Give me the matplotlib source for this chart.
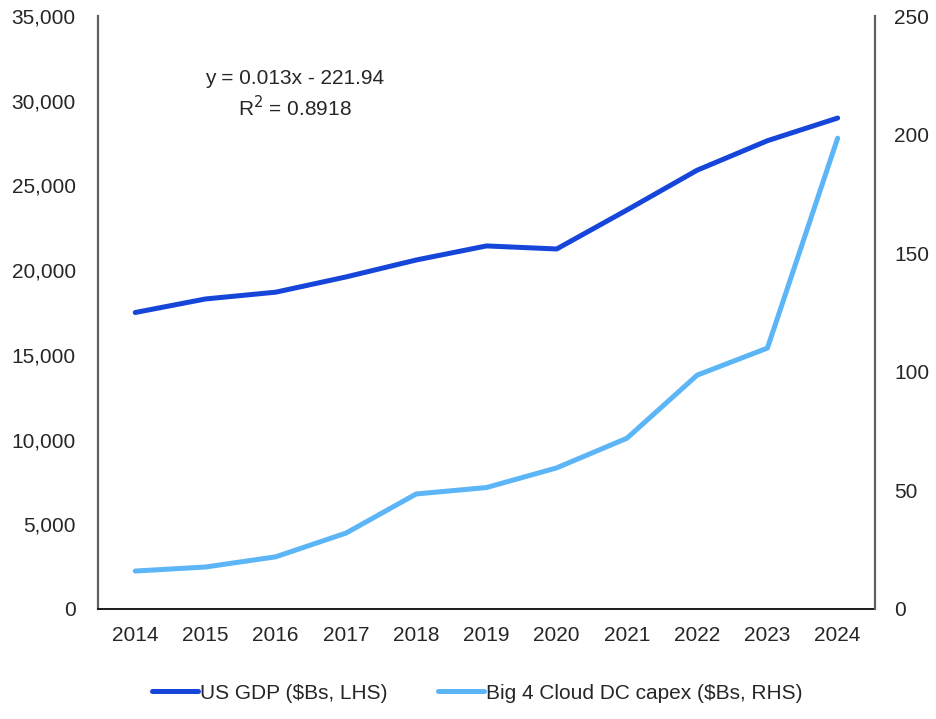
import matplotlib
matplotlib.use("Agg")
import matplotlib.pyplot as plt
from matplotlib.ticker import FuncFormatter, MultipleLocator

plt.rcParams['font.family'] = ['Liberation Sans', 'DejaVu Sans']

years = [2014, 2015, 2016, 2017, 2018, 2019, 2020, 2021, 2022, 2023, 2024]
us_gdp = [17500, 18300, 18700, 19600, 20600, 21430, 21250, 23550, 25900, 27640, 28980]
cloud_capex = [16.0, 17.7, 22.0, 32.0, 48.5, 51.2, 59.5, 72.0, 98.6, 110.0, 198.5]

gdp_color = '#1546d9'
capex_color = '#5cb5f7'
text_color = '#262626'

fig = plt.figure(figsize=(9.36, 7.19), dpi=100)
ax = fig.add_axes([0.1047, 0.153, 0.83, 0.8247])
ax2 = ax.twinx()

x = list(range(len(years)))
l1, = ax.plot(x, us_gdp, color=gdp_color, lw=3.6, solid_capstyle='round',
              solid_joinstyle='round', label='US GDP ($Bs, LHS)')
l2, = ax2.plot(x, cloud_capex, color=capex_color, lw=3.6, solid_capstyle='round',
               solid_joinstyle='round', label='Big 4 Cloud DC capex ($Bs, RHS)')

ax.set_xlim(-0.53, 10.53)
ax.set_ylim(0, 35000)
ax2.set_ylim(0, 250)
ax.yaxis.set_major_locator(MultipleLocator(5000))
ax2.yaxis.set_major_locator(MultipleLocator(50))
ax.yaxis.set_major_formatter(FuncFormatter(lambda v, p: f"{int(v):,}"))
ax.set_xticks(x)
ax.set_xticklabels([str(y) for y in years])

for a in (ax, ax2):
    a.tick_params(length=0, labelsize=15, colors=text_color)
    a.spines['top'].set_visible(False)
ax.tick_params(axis='y', pad=16)
ax2.tick_params(axis='y', pad=14)
ax.tick_params(axis='x', pad=12)

ax.spines['left'].set_color('#606060')
ax.spines['left'].set_linewidth(1.6)
ax.spines['bottom'].set_color('#1a1a1a')
ax.spines['bottom'].set_linewidth(1.4)
ax.spines['right'].set_visible(False)
ax2.spines['left'].set_visible(False)
ax2.spines['bottom'].set_visible(False)
ax2.spines['right'].set_color('#606060')
ax2.spines['right'].set_linewidth(1.6)

ax.text(0.253, 0.895, "y = 0.013x - 221.94", transform=ax.transAxes,
        ha='center', va='center', fontsize=15, color=text_color)
ax.text(0.253, 0.845, "R$^2$ = 0.8918", transform=ax.transAxes,
        ha='center', va='center', fontsize=15, color=text_color)

fig.legend(handles=[l1, l2], loc='center', bbox_to_anchor=(0.51, 0.036),
           ncol=2, frameon=False, fontsize=15, handlelength=2.2,
           handletextpad=0.1, columnspacing=2.4, labelcolor=text_color)

fig.savefig('out.png', dpi=100)
